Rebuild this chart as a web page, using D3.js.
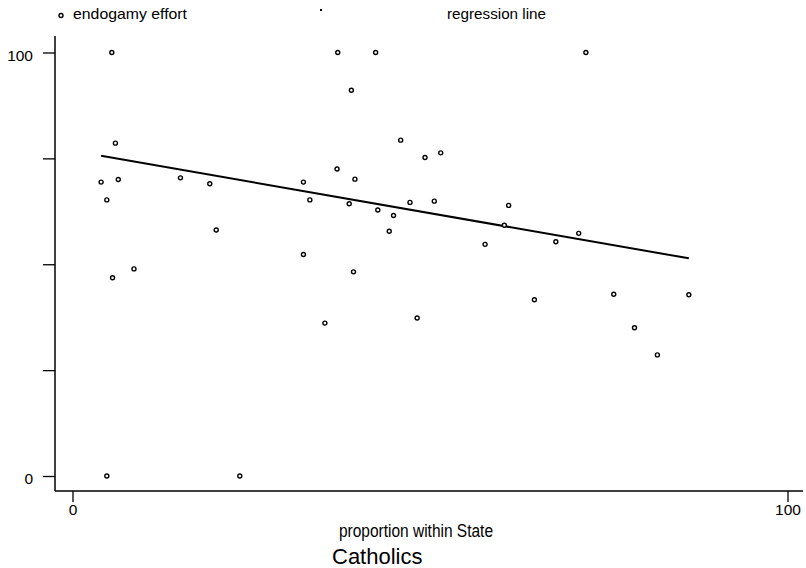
<!DOCTYPE html>
<html>
<head>
<meta charset="utf-8">
<script src="https://cdn.jsdelivr.net/npm/d3@7"></script>
<style>
  body { margin: 0; background: #fff; }
  text { font-family: "Liberation Sans", Arial, sans-serif; fill: #000; }
  .narrow { font-family: "Liberation Sans Narrow", "Liberation Sans", Arial, sans-serif; }
  .axis path { display: none; }
  .axis line { stroke: #000; stroke-width: 1.3; }
  .axis text { font-size: 15.5px; }
</style>
</head>
<body>
<script>
// proportion of Catholics within State (x) and endogamy effort (y)
var proportion = [5.5, 6.0, 4.0, 6.4, 4.8, 15.1, 19.2, 20.1, 8.6, 5.6,
                  32.3, 33.2, 32.3, 35.3, 37.1, 37.0, 42.4, 39.0, 45.9, 49.3,
                  51.5, 39.5, 38.7, 42.7, 47.2, 50.6, 44.9, 44.3, 61.0, 57.7,
                  67.6, 39.3, 64.6, 48.2, 60.4, 71.8, 70.8, 75.7, 86.2, 78.6,
                  81.8, 4.8, 23.4];
var effort = [100, 78.6, 69.4, 70.0, 65.2, 70.4, 69.0, 58.1, 48.9, 46.8,
              69.4, 65.2, 52.3, 36.1, 100, 72.5, 100, 91.1, 79.3, 75.2,
              76.3, 70.1, 64.3, 62.8, 64.6, 64.9, 61.5, 57.8, 63.9, 54.7,
              55.3, 48.2, 41.6, 37.3, 59.2, 100, 57.3, 42.9, 42.8, 35.0,
              28.6, 0, 0];

// fitted values at the ends of the regression line
var fitX = [4.0, 86.2];
var fitY = [75.6, 51.4];

var xTicks = [0, 100];
var yTicks = [0, 25, 50, 75, 100];
var yLabelled = [0, 100];

var width = 806,
    height = 568;

var frame = {left: 55, right: 803, top: 36, bottom: 491};

var x = d3.scaleLinear().domain([0, 100]).range([72.5, 787.5]);
var y = d3.scaleLinear().domain([0, 100]).range([476, 52.5]);

var svg = d3.select("body").append("svg")
    .attr("width", width)
    .attr("height", height);

// axis lines
svg.append("line")
    .attr("x1", frame.left).attr("x2", frame.left)
    .attr("y1", frame.top).attr("y2", frame.bottom)
    .attr("stroke", "#000").attr("stroke-width", 1.5);

svg.append("line")
    .attr("x1", frame.left).attr("x2", frame.right)
    .attr("y1", frame.bottom).attr("y2", frame.bottom)
    .attr("stroke", "#000").attr("stroke-width", 1.5);

var yAxis = svg.append("g")
    .attr("class", "axis")
    .attr("transform", "translate(" + frame.left + ",0)")
    .call(d3.axisLeft(y)
        .tickValues(yTicks)
        .tickSize(12)
        .tickPadding(10)
        .tickFormat(function(d) { return yLabelled.indexOf(d) >= 0 ? d : ""; }));
yAxis.selectAll("text").attr("dy", "0.5em");

svg.append("g")
    .attr("class", "axis")
    .attr("transform", "translate(0," + frame.bottom + ")")
    .call(d3.axisBottom(x)
        .tickValues(xTicks)
        .tickSize(11)
        .tickPadding(2));

// regression line
var line = d3.line()
    .x(function(d) { return x(d[0]); })
    .y(function(d) { return y(d[1]); });

svg.append("path")
    .datum(d3.zip(fitX, fitY))
    .attr("d", line)
    .attr("fill", "none")
    .attr("stroke", "#000")
    .attr("stroke-width", 2);

// points
svg.selectAll("circle.scatter")
    .data(d3.zip(proportion, effort))
    .enter().append("circle")
    .attr("class", "scatter")
    .attr("cx", function(d) { return x(d[0]); })
    .attr("cy", function(d) { return y(d[1]); })
    .attr("r", 2)
    .attr("fill", "#fff")
    .attr("stroke", "#000")
    .attr("stroke-width", 1.4);

// legend
svg.append("circle")
    .attr("cx", 61).attr("cy", 15.5).attr("r", 2)
    .attr("fill", "#fff").attr("stroke", "#000").attr("stroke-width", 1.4);

svg.append("text")
    .attr("x", 73).attr("y", 19)
    .style("font-size", "15px")
    .attr("textLength", 114)
    .attr("lengthAdjust", "spacingAndGlyphs")
    .text("endogamy effort");

svg.append("rect")
    .attr("x", 320).attr("y", 9).attr("width", 2).attr("height", 2)
    .attr("fill", "#000");

svg.append("text")
    .attr("x", 447).attr("y", 18.5)
    .style("font-size", "15px")
    .attr("textLength", 99)
    .attr("lengthAdjust", "spacingAndGlyphs")
    .text("regression line");

// axis titles
svg.append("text")
    .attr("class", "narrow")
    .attr("x", 339).attr("y", 536.5)
    .style("font-size", "17.5px")
    .attr("textLength", 154)
    .attr("lengthAdjust", "spacingAndGlyphs")
    .text("proportion within State");

svg.append("text")
    .attr("x", 332).attr("y", 564)
    .style("font-size", "22px")
    .text("Catholics");
</script>
</body>
</html>
